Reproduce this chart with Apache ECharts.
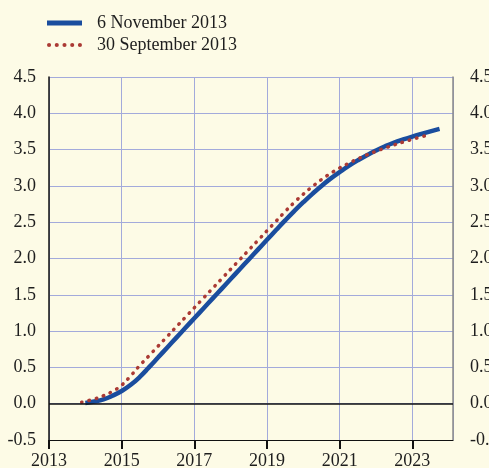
<!DOCTYPE html>
<html>
<head>
<meta charset="utf-8">
<script src="https://cdn.jsdelivr.net/npm/echarts@6/dist/echarts.min.js"></script>
<style>
  html, body { margin: 0; padding: 0; background: #fdfbe6; }
  #main { width: 489px; height: 468px; }
</style>
</head>
<body>
<div id="main"></div>
<script>
// series names
var seriesNames = ['6 November 2013', '30 September 2013'];

// 6 November 2013 projection (quarterly)
var novYears = [2014.0, 2014.25, 2014.5, 2014.75, 2015.0, 2015.25, 2015.5, 2015.75,
    2016.0, 2016.25, 2016.5, 2016.75, 2017.0, 2017.25, 2017.5, 2017.75,
    2018.0, 2018.25, 2018.5, 2018.75, 2019.0, 2019.25, 2019.5, 2019.75,
    2020.0, 2020.25, 2020.5, 2020.75, 2021.0, 2021.25, 2021.5, 2021.75,
    2022.0, 2022.25, 2022.5, 2022.75, 2023.0, 2023.25, 2023.5, 2023.75];
var novValues = [0.01, 0.03, 0.06, 0.11, 0.175, 0.26, 0.37, 0.50,
    0.635, 0.772, 0.907, 1.042, 1.177, 1.312, 1.447, 1.582,
    1.717, 1.852, 1.987, 2.122, 2.257, 2.392, 2.525, 2.653,
    2.775, 2.891, 3.0, 3.10, 3.19, 3.275, 3.352, 3.423,
    3.488, 3.546, 3.597, 3.64, 3.68, 3.717, 3.752, 3.785];

// 30 September 2013 projection (quarterly)
var sepYears = [2013.9, 2014.25, 2014.5, 2014.75, 2015.0, 2015.25, 2015.5, 2015.75,
    2016.0, 2016.25, 2016.5, 2016.75, 2017.0, 2017.25, 2017.5, 2017.75,
    2018.0, 2018.25, 2018.5, 2018.75, 2019.0, 2019.25, 2019.5, 2019.75,
    2020.0, 2020.25, 2020.5, 2020.75, 2021.0, 2021.25, 2021.5, 2021.75,
    2022.0, 2022.25, 2022.5, 2022.75, 2023.0, 2023.25, 2023.5];
var sepValues = [0.02, 0.065, 0.11, 0.17, 0.255, 0.385, 0.527, 0.659,
    0.792, 0.924, 1.057, 1.189, 1.322, 1.454, 1.587, 1.719,
    1.852, 1.984, 2.117, 2.249, 2.382, 2.514, 2.647, 2.772,
    2.887, 2.992, 3.087, 3.172, 3.247, 3.312, 3.372, 3.427,
    3.477, 3.522, 3.565, 3.605, 3.642, 3.677, 3.71];

// axis ranges
var xMin = 2013, xMax = 2024.12, xStep = 2;
var yMin = -0.5, yMax = 4.5, yStep = 0.5;

var font = "'Liberation Serif', 'Times New Roman', serif";
var gridColor = '#a3aadb';
var blue = '#1a4d9e';
var red = '#ab3a34';

// dotted legend sample: five small circles
var dotsIcon = 'path://M2,0A2,2,0,1,1,2,4A2,2,0,1,1,2,0Z' +
    'M9.5,0A2,2,0,1,1,9.5,4A2,2,0,1,1,9.5,0Z' +
    'M17,0A2,2,0,1,1,17,4A2,2,0,1,1,17,0Z' +
    'M24.5,0A2,2,0,1,1,24.5,4A2,2,0,1,1,24.5,0Z' +
    'M32,0A2,2,0,1,1,32,4A2,2,0,1,1,32,0Z';

function pairs(xs, ys) {
    return xs.map(function (x, i) { return [x, ys[i]]; });
}

var chart = echarts.init(document.getElementById('main'));

var option = {
    backgroundColor: '#fdfbe6',
    animation: false,
    textStyle: { fontFamily: font },
    legend: {
        orient: 'vertical',
        left: 42,
        top: 9,
        itemWidth: 35,
        itemHeight: 5,
        itemGap: 4,
        itemStyle: { borderWidth: 0 },
        textStyle: {
            fontFamily: font,
            fontSize: 18,
            color: '#1e1e1e',
            padding: [0, 0, 0, 10]
        },
        data: [
            { name: seriesNames[0], icon: 'rect' },
            { name: seriesNames[1], icon: dotsIcon }
        ]
    },
    grid: {
        left: 49,
        right: 36,
        top: 77,
        bottom: 28,
        outerBoundsMode: 'none'
    },
    xAxis: {
        type: 'value',
        min: xMin,
        max: xMax,
        interval: xStep,
        axisLine: { show: true, onZero: false, lineStyle: { color: '#111', width: 1 } },
        axisTick: { show: true, length: 9, lineStyle: { color: '#111', width: 2 } },
        axisLabel: {
            showMaxLabel: false,
            margin: 12,
            fontFamily: font,
            fontSize: 18,
            color: '#1e1e1e',
            formatter: function (v) { return String(v); }
        },
        splitLine: { show: true, lineStyle: { color: gridColor, width: 1 } }
    },
    yAxis: [
        {
            type: 'value',
            min: yMin,
            max: yMax,
            interval: yStep,
            axisLine: { show: true, lineStyle: { color: '#111', width: 1.5 } },
            axisTick: { show: false },
            axisLabel: {
                margin: 13,
                fontFamily: font,
                fontSize: 18,
                color: '#1e1e1e',
                formatter: function (v) { return v.toFixed(1); }
            },
            splitLine: { show: true, lineStyle: { color: gridColor, width: 1 } }
        },
        {
            type: 'value',
            position: 'right',
            min: yMin,
            max: yMax,
            interval: yStep,
            axisLine: { show: true, lineStyle: { color: '#8a8a8a', width: 1.5 } },
            axisTick: { show: false },
            axisLabel: {
                margin: 17,
                fontFamily: font,
                fontSize: 18,
                color: '#1e1e1e',
                formatter: function (v) { return v.toFixed(1); }
            },
            splitLine: { show: false }
        }
    ],
    series: [
        {
            name: seriesNames[0],
            type: 'line',
            data: pairs(novYears, novValues),
            smooth: true,
            symbol: 'none',
            z: 3,
            lineStyle: { color: blue, width: 4.5 },
            itemStyle: { color: blue },
            markLine: {
                silent: true,
                symbol: 'none',
                label: { show: false },
                data: [
                    { yAxis: 0, lineStyle: { color: '#111', width: 1.5, type: 'solid' } }
                ]
            }
        },
        {
            name: seriesNames[1],
            type: 'line',
            data: pairs(sepYears, sepValues),
            smooth: true,
            symbol: 'none',
            z: 4,
            lineStyle: { color: red, width: 3.5, type: [0.5, 7], cap: 'round' },
            itemStyle: { color: red }
        }
    ]
};

chart.setOption(option);
</script>
</body>
</html>
